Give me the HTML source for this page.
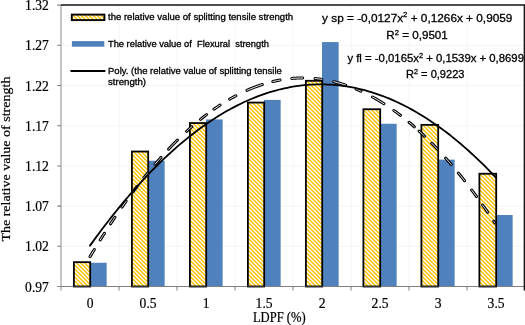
<!DOCTYPE html><html><head><meta charset="utf-8"><title>chart</title>
<style>html,body{margin:0;padding:0;background:#fff;}svg{display:block;will-change:transform;filter:blur(0.3px);}text{font-family:"Liberation Sans",sans-serif;fill:#000;stroke:#000;stroke-width:0.3px;}.se{font-family:"Liberation Serif",serif;fill:#000;stroke-width:0.2px;}</style></head><body>
<svg width="525" height="325" viewBox="0 0 525 325">
<rect width="525" height="325" fill="#fff"/>
<path d="M61.0 246.30H525.0 M61.0 206.10H525.0 M61.0 165.90H525.0 M61.0 125.70H525.0 M61.0 85.50H525.0 M61.0 45.30H525.0 M61.0 5.10H525.0 M119.00 5.10V286.5 M177.00 5.10V286.5 M235.00 5.10V286.5 M293.00 5.10V286.5 M351.00 5.10V286.5 M409.00 5.10V286.5 M467.00 5.10V286.5" stroke="#f4f4f4" stroke-width="1" fill="none"/>
<rect x="90.00" y="262.78" width="16.65" height="23.72" fill="#4F81BD"/>
<rect x="148.00" y="160.75" width="16.65" height="125.75" fill="#4F81BD"/>
<rect x="206.00" y="119.43" width="16.65" height="167.07" fill="#4F81BD"/>
<rect x="264.00" y="99.89" width="16.65" height="186.61" fill="#4F81BD"/>
<rect x="322.00" y="42.08" width="16.65" height="244.42" fill="#4F81BD"/>
<rect x="380.00" y="123.77" width="16.65" height="162.73" fill="#4F81BD"/>
<rect x="438.00" y="159.63" width="16.65" height="126.87" fill="#4F81BD"/>
<rect x="496.00" y="215.02" width="16.65" height="71.48" fill="#4F81BD"/>
<clipPath id="yc"><rect x="73.90" y="262.17" width="16.30" height="24.33"/><rect x="131.90" y="151.53" width="16.30" height="134.97"/><rect x="189.90" y="123.07" width="16.30" height="163.43"/><rect x="247.90" y="102.57" width="16.30" height="183.93"/><rect x="305.90" y="80.78" width="16.30" height="205.72"/><rect x="363.40" y="109.24" width="16.80" height="177.26"/><rect x="421.40" y="124.84" width="16.80" height="161.66"/><rect x="479.40" y="173.73" width="16.80" height="112.77"/><rect x="71.70" y="14.60" width="32.80" height="5.60"/></clipPath>
<g clip-path="url(#yc)"><rect width="525" height="325" fill="#fff"/><path d="M-330.25 0L-0.25 330 M-326.25 0L3.75 330 M-322.25 0L7.75 330 M-318.25 0L11.75 330 M-314.25 0L15.75 330 M-310.25 0L19.75 330 M-306.25 0L23.75 330 M-302.25 0L27.75 330 M-298.25 0L31.75 330 M-294.25 0L35.75 330 M-290.25 0L39.75 330 M-286.25 0L43.75 330 M-282.25 0L47.75 330 M-278.25 0L51.75 330 M-274.25 0L55.75 330 M-270.25 0L59.75 330 M-266.25 0L63.75 330 M-262.25 0L67.75 330 M-258.25 0L71.75 330 M-254.25 0L75.75 330 M-250.25 0L79.75 330 M-246.25 0L83.75 330 M-242.25 0L87.75 330 M-238.25 0L91.75 330 M-234.25 0L95.75 330 M-230.25 0L99.75 330 M-226.25 0L103.75 330 M-222.25 0L107.75 330 M-218.25 0L111.75 330 M-214.25 0L115.75 330 M-210.25 0L119.75 330 M-206.25 0L123.75 330 M-202.25 0L127.75 330 M-198.25 0L131.75 330 M-194.25 0L135.75 330 M-190.25 0L139.75 330 M-186.25 0L143.75 330 M-182.25 0L147.75 330 M-178.25 0L151.75 330 M-174.25 0L155.75 330 M-170.25 0L159.75 330 M-166.25 0L163.75 330 M-162.25 0L167.75 330 M-158.25 0L171.75 330 M-154.25 0L175.75 330 M-150.25 0L179.75 330 M-146.25 0L183.75 330 M-142.25 0L187.75 330 M-138.25 0L191.75 330 M-134.25 0L195.75 330 M-130.25 0L199.75 330 M-126.25 0L203.75 330 M-122.25 0L207.75 330 M-118.25 0L211.75 330 M-114.25 0L215.75 330 M-110.25 0L219.75 330 M-106.25 0L223.75 330 M-102.25 0L227.75 330 M-98.25 0L231.75 330 M-94.25 0L235.75 330 M-90.25 0L239.75 330 M-86.25 0L243.75 330 M-82.25 0L247.75 330 M-78.25 0L251.75 330 M-74.25 0L255.75 330 M-70.25 0L259.75 330 M-66.25 0L263.75 330 M-62.25 0L267.75 330 M-58.25 0L271.75 330 M-54.25 0L275.75 330 M-50.25 0L279.75 330 M-46.25 0L283.75 330 M-42.25 0L287.75 330 M-38.25 0L291.75 330 M-34.25 0L295.75 330 M-30.25 0L299.75 330 M-26.25 0L303.75 330 M-22.25 0L307.75 330 M-18.25 0L311.75 330 M-14.25 0L315.75 330 M-10.25 0L319.75 330 M-6.25 0L323.75 330 M-2.25 0L327.75 330 M1.75 0L331.75 330 M5.75 0L335.75 330 M9.75 0L339.75 330 M13.75 0L343.75 330 M17.75 0L347.75 330 M21.75 0L351.75 330 M25.75 0L355.75 330 M29.75 0L359.75 330 M33.75 0L363.75 330 M37.75 0L367.75 330 M41.75 0L371.75 330 M45.75 0L375.75 330 M49.75 0L379.75 330 M53.75 0L383.75 330 M57.75 0L387.75 330 M61.75 0L391.75 330 M65.75 0L395.75 330 M69.75 0L399.75 330 M73.75 0L403.75 330 M77.75 0L407.75 330 M81.75 0L411.75 330 M85.75 0L415.75 330 M89.75 0L419.75 330 M93.75 0L423.75 330 M97.75 0L427.75 330 M101.75 0L431.75 330 M105.75 0L435.75 330 M109.75 0L439.75 330 M113.75 0L443.75 330 M117.75 0L447.75 330 M121.75 0L451.75 330 M125.75 0L455.75 330 M129.75 0L459.75 330 M133.75 0L463.75 330 M137.75 0L467.75 330 M141.75 0L471.75 330 M145.75 0L475.75 330 M149.75 0L479.75 330 M153.75 0L483.75 330 M157.75 0L487.75 330 M161.75 0L491.75 330 M165.75 0L495.75 330 M169.75 0L499.75 330 M173.75 0L503.75 330 M177.75 0L507.75 330 M181.75 0L511.75 330 M185.75 0L515.75 330 M189.75 0L519.75 330 M193.75 0L523.75 330 M197.75 0L527.75 330 M201.75 0L531.75 330 M205.75 0L535.75 330 M209.75 0L539.75 330 M213.75 0L543.75 330 M217.75 0L547.75 330 M221.75 0L551.75 330 M225.75 0L555.75 330 M229.75 0L559.75 330 M233.75 0L563.75 330 M237.75 0L567.75 330 M241.75 0L571.75 330 M245.75 0L575.75 330 M249.75 0L579.75 330 M253.75 0L583.75 330 M257.75 0L587.75 330 M261.75 0L591.75 330 M265.75 0L595.75 330 M269.75 0L599.75 330 M273.75 0L603.75 330 M277.75 0L607.75 330 M281.75 0L611.75 330 M285.75 0L615.75 330 M289.75 0L619.75 330 M293.75 0L623.75 330 M297.75 0L627.75 330 M301.75 0L631.75 330 M305.75 0L635.75 330 M309.75 0L639.75 330 M313.75 0L643.75 330 M317.75 0L647.75 330 M321.75 0L651.75 330 M325.75 0L655.75 330 M329.75 0L659.75 330 M333.75 0L663.75 330 M337.75 0L667.75 330 M341.75 0L671.75 330 M345.75 0L675.75 330 M349.75 0L679.75 330 M353.75 0L683.75 330 M357.75 0L687.75 330 M361.75 0L691.75 330 M365.75 0L695.75 330 M369.75 0L699.75 330 M373.75 0L703.75 330 M377.75 0L707.75 330 M381.75 0L711.75 330 M385.75 0L715.75 330 M389.75 0L719.75 330 M393.75 0L723.75 330 M397.75 0L727.75 330 M401.75 0L731.75 330 M405.75 0L735.75 330 M409.75 0L739.75 330 M413.75 0L743.75 330 M417.75 0L747.75 330 M421.75 0L751.75 330 M425.75 0L755.75 330 M429.75 0L759.75 330 M433.75 0L763.75 330 M437.75 0L767.75 330 M441.75 0L771.75 330 M445.75 0L775.75 330 M449.75 0L779.75 330 M453.75 0L783.75 330 M457.75 0L787.75 330 M461.75 0L791.75 330 M465.75 0L795.75 330 M469.75 0L799.75 330 M473.75 0L803.75 330 M477.75 0L807.75 330 M481.75 0L811.75 330 M485.75 0L815.75 330 M489.75 0L819.75 330 M493.75 0L823.75 330 M497.75 0L827.75 330 M501.75 0L831.75 330 M505.75 0L835.75 330 M509.75 0L839.75 330 M513.75 0L843.75 330 M517.75 0L847.75 330 M521.75 0L851.75 330 M525.75 0L855.75 330 M529.75 0L859.75 330" stroke="#FFC000" stroke-width="1.45" fill="none"/></g>
<rect x="73.90" y="262.17" width="16.30" height="24.33" fill="none" stroke="#000" stroke-width="1.8"/>
<rect x="131.90" y="151.53" width="16.30" height="134.97" fill="none" stroke="#000" stroke-width="1.8"/>
<rect x="189.90" y="123.07" width="16.30" height="163.43" fill="none" stroke="#000" stroke-width="1.8"/>
<rect x="247.90" y="102.57" width="16.30" height="183.93" fill="none" stroke="#000" stroke-width="1.8"/>
<rect x="305.90" y="80.78" width="16.30" height="205.72" fill="none" stroke="#000" stroke-width="1.8"/>
<rect x="363.40" y="109.24" width="16.80" height="177.26" fill="none" stroke="#000" stroke-width="1.8"/>
<rect x="421.40" y="124.84" width="16.80" height="161.66" fill="none" stroke="#000" stroke-width="1.8"/>
<rect x="479.40" y="173.73" width="16.80" height="112.77" fill="none" stroke="#000" stroke-width="1.8"/>
<path d="M61.0 5.10V290.5" stroke="#a6a6a6" stroke-width="1.3" fill="none"/>
<path d="M57.2 286.50H61.0 M57.2 246.30H61.0 M57.2 206.10H61.0 M57.2 165.90H61.0 M57.2 125.70H61.0 M57.2 85.50H61.0 M57.2 45.30H61.0 M57.2 5.10H61.0 M119.00 286.5V290.5 M177.00 286.5V290.5 M235.00 286.5V290.5 M293.00 286.5V290.5 M351.00 286.5V290.5 M409.00 286.5V290.5 M467.00 286.5V290.5 M57.2 286.5H524.4" stroke="#808080" stroke-width="1.05" fill="none"/>
<path d="M73.00 286.5H91.10" stroke="#333" stroke-width="1.1"/>
<path d="M131.00 286.5H149.10" stroke="#333" stroke-width="1.1"/>
<path d="M189.00 286.5H207.10" stroke="#333" stroke-width="1.1"/>
<path d="M247.00 286.5H265.10" stroke="#333" stroke-width="1.1"/>
<path d="M305.00 286.5H323.10" stroke="#333" stroke-width="1.1"/>
<path d="M362.50 286.5H381.10" stroke="#333" stroke-width="1.1"/>
<path d="M420.50 286.5H439.10" stroke="#333" stroke-width="1.1"/>
<path d="M478.50 286.5H497.10" stroke="#333" stroke-width="1.1"/>
<path d="M61.0 5.10H524.4V290.5" stroke="#161616" stroke-width="1.5" fill="none"/>
<path d="M90.07 256.56 L90.78 255.37 L91.49 254.19 L92.20 253.01 L92.91 251.83 L93.62 250.66 L94.33 249.50 M100.20 239.98 L100.90 238.86 L101.60 237.75 L102.30 236.64 L103.00 235.54 L103.70 234.44 L104.40 233.34 M110.53 223.89 L111.27 222.77 L112.01 221.66 L112.75 220.55 L113.49 219.44 L114.23 218.34 L114.97 217.25 M121.97 207.07 L122.66 206.08 L123.36 205.10 L124.05 204.12 L124.74 203.14 L125.44 202.17 L126.13 201.20 M132.90 191.95 L133.60 191.01 L134.30 190.08 L135.00 189.16 L135.70 188.23 L136.40 187.31 L137.10 186.40 M143.94 177.64 L144.54 176.88 L145.15 176.13 L145.75 175.38 L146.35 174.64 L146.96 173.90 L147.56 173.16 M154.99 164.28 L155.99 163.11 L157.00 161.95 L158.00 160.80 L159.00 159.66 L160.01 158.52 L161.01 157.40 M168.55 149.19 L170.03 147.63 L171.52 146.08 L173.00 144.55 L174.48 143.04 L175.97 141.55 L177.45 140.07 M186.62 131.34 L187.49 130.54 L188.37 129.74 L189.25 128.95 L190.13 128.17 L191.01 127.39 L191.88 126.62 M200.48 119.39 L201.49 118.58 L202.49 117.78 L203.50 116.98 L204.51 116.20 L205.51 115.42 L206.52 114.65 M213.94 109.23 L214.96 108.52 L215.98 107.81 L217.00 107.12 L218.02 106.43 L219.04 105.75 L220.06 105.08 M229.71 99.14 L230.74 98.55 L231.77 97.97 L232.80 97.40 L233.83 96.83 L234.86 96.28 L235.89 95.73 M247.00 90.34 L249.55 89.24 L252.10 88.19 L254.65 87.19 L257.20 86.25 L259.75 85.35 L262.30 84.51 M272.87 81.56 L274.06 81.28 L275.26 81.01 L276.45 80.76 L277.64 80.51 L278.84 80.28 L280.03 80.06 M291.80 78.47 L293.62 78.32 L295.43 78.20 L297.25 78.11 L299.07 78.04 L300.88 77.99 L302.70 77.98 M315.09 78.55 L316.21 78.66 L317.33 78.78 L318.45 78.91 L319.57 79.05 L320.69 79.21 L321.81 79.37 M333.84 81.72 L335.81 82.21 L337.78 82.73 L339.75 83.29 L341.72 83.87 L343.69 84.49 L345.66 85.13 M356.07 89.06 L356.88 89.40 L357.69 89.74 L358.50 90.09 L359.31 90.45 L360.12 90.81 L360.93 91.18 M372.49 96.98 L374.39 98.03 L376.30 99.12 L378.20 100.23 L380.10 101.37 L382.01 102.54 L383.91 103.74 M393.91 110.50 L394.99 111.28 L396.07 112.07 L397.15 112.86 L398.23 113.67 L399.31 114.49 L400.39 115.31 M409.04 122.23 L409.93 122.98 L410.81 123.73 L411.70 124.48 L412.59 125.25 L413.47 126.01 L414.36 126.79 M419.10 131.03 L420.00 131.86 L420.90 132.69 L421.80 133.53 L422.70 134.38 L423.60 135.23 L424.50 136.09 M431.74 143.22 L432.66 144.16 L433.58 145.10 L434.50 146.05 L435.42 147.00 L436.34 147.96 L437.26 148.93 M445.59 158.01 L446.52 159.07 L447.46 160.13 L448.40 161.20 L449.34 162.28 L450.28 163.36 L451.21 164.45 M458.34 172.97 L459.38 174.24 L460.41 175.52 L461.45 176.81 L462.49 178.11 L463.52 179.42 L464.56 180.73 M471.69 190.01 L472.50 191.08 L473.30 192.15 L474.10 193.23 L474.90 194.31 L475.70 195.40 L476.51 196.49 M482.66 205.05 L483.51 206.25 L484.35 207.45 L485.20 208.67 L486.05 209.89 L486.89 211.11 L487.74 212.34 M493.73 221.19 L493.92 221.48 L494.11 221.76 L494.30 222.05 L494.49 222.34 L494.68 222.62 L494.87 222.91" fill="none" stroke="#000" stroke-width="3.0" stroke-linecap="round"/>
<path d="M90.07 256.56 L90.78 255.37 L91.49 254.19 L92.20 253.01 L92.91 251.83 L93.62 250.66 L94.33 249.50 M100.20 239.98 L100.90 238.86 L101.60 237.75 L102.30 236.64 L103.00 235.54 L103.70 234.44 L104.40 233.34 M110.53 223.89 L111.27 222.77 L112.01 221.66 L112.75 220.55 L113.49 219.44 L114.23 218.34 L114.97 217.25 M121.97 207.07 L122.66 206.08 L123.36 205.10 L124.05 204.12 L124.74 203.14 L125.44 202.17 L126.13 201.20 M132.90 191.95 L133.60 191.01 L134.30 190.08 L135.00 189.16 L135.70 188.23 L136.40 187.31 L137.10 186.40 M143.94 177.64 L144.54 176.88 L145.15 176.13 L145.75 175.38 L146.35 174.64 L146.96 173.90 L147.56 173.16 M154.99 164.28 L155.99 163.11 L157.00 161.95 L158.00 160.80 L159.00 159.66 L160.01 158.52 L161.01 157.40 M168.55 149.19 L170.03 147.63 L171.52 146.08 L173.00 144.55 L174.48 143.04 L175.97 141.55 L177.45 140.07 M186.62 131.34 L187.49 130.54 L188.37 129.74 L189.25 128.95 L190.13 128.17 L191.01 127.39 L191.88 126.62 M200.48 119.39 L201.49 118.58 L202.49 117.78 L203.50 116.98 L204.51 116.20 L205.51 115.42 L206.52 114.65 M213.94 109.23 L214.96 108.52 L215.98 107.81 L217.00 107.12 L218.02 106.43 L219.04 105.75 L220.06 105.08 M229.71 99.14 L230.74 98.55 L231.77 97.97 L232.80 97.40 L233.83 96.83 L234.86 96.28 L235.89 95.73 M247.00 90.34 L249.55 89.24 L252.10 88.19 L254.65 87.19 L257.20 86.25 L259.75 85.35 L262.30 84.51 M272.87 81.56 L274.06 81.28 L275.26 81.01 L276.45 80.76 L277.64 80.51 L278.84 80.28 L280.03 80.06 M291.80 78.47 L293.62 78.32 L295.43 78.20 L297.25 78.11 L299.07 78.04 L300.88 77.99 L302.70 77.98 M315.09 78.55 L316.21 78.66 L317.33 78.78 L318.45 78.91 L319.57 79.05 L320.69 79.21 L321.81 79.37 M333.84 81.72 L335.81 82.21 L337.78 82.73 L339.75 83.29 L341.72 83.87 L343.69 84.49 L345.66 85.13 M356.07 89.06 L356.88 89.40 L357.69 89.74 L358.50 90.09 L359.31 90.45 L360.12 90.81 L360.93 91.18 M372.49 96.98 L374.39 98.03 L376.30 99.12 L378.20 100.23 L380.10 101.37 L382.01 102.54 L383.91 103.74 M393.91 110.50 L394.99 111.28 L396.07 112.07 L397.15 112.86 L398.23 113.67 L399.31 114.49 L400.39 115.31 M409.04 122.23 L409.93 122.98 L410.81 123.73 L411.70 124.48 L412.59 125.25 L413.47 126.01 L414.36 126.79 M419.10 131.03 L420.00 131.86 L420.90 132.69 L421.80 133.53 L422.70 134.38 L423.60 135.23 L424.50 136.09 M431.74 143.22 L432.66 144.16 L433.58 145.10 L434.50 146.05 L435.42 147.00 L436.34 147.96 L437.26 148.93 M445.59 158.01 L446.52 159.07 L447.46 160.13 L448.40 161.20 L449.34 162.28 L450.28 163.36 L451.21 164.45 M458.34 172.97 L459.38 174.24 L460.41 175.52 L461.45 176.81 L462.49 178.11 L463.52 179.42 L464.56 180.73 M471.69 190.01 L472.50 191.08 L473.30 192.15 L474.10 193.23 L474.90 194.31 L475.70 195.40 L476.51 196.49 M482.66 205.05 L483.51 206.25 L484.35 207.45 L485.20 208.67 L486.05 209.89 L486.89 211.11 L487.74 212.34 M493.73 221.19 L493.92 221.48 L494.11 221.76 L494.30 222.05 L494.49 222.34 L494.68 222.62 L494.87 222.91" fill="none" stroke="#fff" stroke-width="0.95" stroke-linecap="round"/>
<polyline points="90.00,245.65 92.90,241.62 95.80,237.64 98.70,233.71 101.60,229.83 104.50,226.00 107.40,222.23 110.30,218.50 113.20,214.83 116.10,211.21 119.00,207.64 121.90,204.11 124.80,200.64 127.70,197.23 130.60,193.86 133.50,190.54 136.40,187.28 139.30,184.06 142.20,180.90 145.10,177.79 148.00,174.72 150.90,171.71 153.80,168.75 156.70,165.85 159.60,162.99 162.50,160.18 165.40,157.43 168.30,154.72 171.20,152.07 174.10,149.47 177.00,146.91 179.90,144.41 182.80,141.96 185.70,139.57 188.60,137.22 191.50,134.92 194.40,132.68 197.30,130.48 200.20,128.34 203.10,126.25 206.00,124.21 208.90,122.22 211.80,120.28 214.70,118.39 217.60,116.55 220.50,114.76 223.40,113.03 226.30,111.34 229.20,109.71 232.10,108.13 235.00,106.60 237.90,105.12 240.80,103.69 243.70,102.31 246.60,100.98 249.50,99.71 252.40,98.48 255.30,97.31 258.20,96.18 261.10,95.11 264.00,94.09 266.90,93.12 269.80,92.20 272.70,91.33 275.60,90.52 278.50,89.75 281.40,89.03 284.30,88.37 287.20,87.76 290.10,87.19 293.00,86.68 295.90,86.22 298.80,85.81 301.70,85.46 304.60,85.15 307.50,84.89 310.40,84.69 313.30,84.53 316.20,84.43 319.10,84.38 322.00,84.38 324.90,84.43 327.80,84.53 330.70,84.68 333.60,84.88 336.50,85.14 339.40,85.44 342.30,85.80 345.20,86.21 348.10,86.66 351.00,87.17 353.90,87.73 356.80,88.34 359.70,89.01 362.60,89.72 365.50,90.48 368.40,91.30 371.30,92.16 374.20,93.08 377.10,94.05 380.00,95.07 382.90,96.14 385.80,97.26 388.70,98.43 391.60,99.66 394.50,100.93 397.40,102.26 400.30,103.63 403.20,105.06 406.10,106.54 409.00,108.07 411.90,109.65 414.80,111.28 417.70,112.96 420.60,114.69 423.50,116.48 426.40,118.31 429.30,120.20 432.20,122.14 435.10,124.12 438.00,126.16 440.90,128.25 443.80,130.40 446.70,132.59 449.60,134.83 452.50,137.13 455.40,139.47 458.30,141.87 461.20,144.31 464.10,146.81 467.00,149.36 469.90,151.96 472.80,154.61 475.70,157.32 478.60,160.07 481.50,162.87 484.40,165.73 487.30,168.64 490.20,171.59 493.10,174.60 496.00,177.66" fill="none" stroke="#000" stroke-width="1.8" stroke-linecap="round"/>
<text class="se" transform="translate(48.9 291.60) scale(1 1.135)" font-size="13.6" text-anchor="end">0.97</text>
<text class="se" transform="translate(48.9 251.40) scale(1 1.135)" font-size="13.6" text-anchor="end">1.02</text>
<text class="se" transform="translate(48.9 211.20) scale(1 1.135)" font-size="13.6" text-anchor="end">1.07</text>
<text class="se" transform="translate(48.9 171.00) scale(1 1.135)" font-size="13.6" text-anchor="end">1.12</text>
<text class="se" transform="translate(48.9 130.80) scale(1 1.135)" font-size="13.6" text-anchor="end">1.17</text>
<text class="se" transform="translate(48.9 90.60) scale(1 1.135)" font-size="13.6" text-anchor="end">1.22</text>
<text class="se" transform="translate(48.9 50.40) scale(1 1.135)" font-size="13.6" text-anchor="end">1.27</text>
<text class="se" transform="translate(48.9 10.20) scale(1 1.135)" font-size="13.6" text-anchor="end">1.32</text>
<text class="se" transform="translate(90.10 308.0) scale(1 1.135)" font-size="13.6" text-anchor="middle">0</text>
<text class="se" transform="translate(148.10 308.0) scale(1 1.135)" font-size="13.6" text-anchor="middle">0.5</text>
<text class="se" transform="translate(206.10 308.0) scale(1 1.135)" font-size="13.6" text-anchor="middle">1</text>
<text class="se" transform="translate(264.10 308.0) scale(1 1.135)" font-size="13.6" text-anchor="middle">1.5</text>
<text class="se" transform="translate(322.10 308.0) scale(1 1.135)" font-size="13.6" text-anchor="middle">2</text>
<text class="se" transform="translate(380.10 308.0) scale(1 1.135)" font-size="13.6" text-anchor="middle">2.5</text>
<text class="se" transform="translate(438.10 308.0) scale(1 1.135)" font-size="13.6" text-anchor="middle">3</text>
<text class="se" transform="translate(496.10 308.0) scale(1 1.135)" font-size="13.6" text-anchor="middle">3.5</text>
<text class="se" transform="translate(279.3 322.3) scale(1 1.135)" font-size="12.6" text-anchor="middle">LDPF (%)</text>
<text class="se" transform="translate(9.5 159.1) rotate(-90)" font-size="13.2" text-anchor="middle" textLength="165" lengthAdjust="spacingAndGlyphs">The relative value of strength</text>
<rect x="71.8" y="14.6" width="32.6" height="5.5" fill="none" stroke="#000" stroke-width="1.9"/>
<rect x="71.9" y="41.1" width="32.4" height="5.6" fill="#4F81BD"/>
<path d="M71.2 70.9H104.6" stroke="#000" stroke-width="2" stroke-linecap="round"/>
<text x="108" y="20.1" font-size="9.0" stroke-width="0.4" textLength="185.1" lengthAdjust="spacingAndGlyphs" text-anchor="start" xml:space="preserve">the relative value of splitting tensile strength</text>
<text x="108" y="46.5" font-size="9.0" stroke-width="0.4" textLength="160.9" lengthAdjust="spacingAndGlyphs" text-anchor="start" xml:space="preserve">The relative value of  Flexural  strength</text>
<text x="108" y="73.5" font-size="9.0" stroke-width="0.4" textLength="173.8" lengthAdjust="spacingAndGlyphs" text-anchor="start" xml:space="preserve">Poly. (the relative value of splitting tensile</text>
<text x="108" y="85.1" font-size="9.0" stroke-width="0.4" textLength="38" lengthAdjust="spacingAndGlyphs" text-anchor="start" xml:space="preserve">strength)</text>
<text x="322.1" y="21.6" font-size="11.3" stroke-width="0.4" textLength="190.3" lengthAdjust="spacingAndGlyphs" xml:space="preserve">y sp = -0,0127x<tspan font-size="7.4" dy="-4.3">2</tspan><tspan dy="4.3"> + 0,1266x + 0,9059</tspan></text>
<text x="386.3" y="38.8" font-size="11.3" stroke-width="0.4" textLength="61.5" lengthAdjust="spacingAndGlyphs" xml:space="preserve">R<tspan font-size="7.4" dy="-4.3">2</tspan><tspan dy="4.3"> = 0,9501</tspan></text>
<text x="347.4" y="62.3" font-size="11.3" stroke-width="0.4" textLength="176.6" lengthAdjust="spacingAndGlyphs" xml:space="preserve">y fl = -0,0165x<tspan font-size="7.4" dy="-4.3">2</tspan><tspan dy="4.3"> + 0,1539x + 0,8699</tspan></text>
<text x="406.0" y="77.8" font-size="11.3" stroke-width="0.4" textLength="58.5" lengthAdjust="spacingAndGlyphs" xml:space="preserve">R<tspan font-size="7.4" dy="-4.3">2</tspan><tspan dy="4.3"> = 0,9223</tspan></text>
</svg></body></html>
